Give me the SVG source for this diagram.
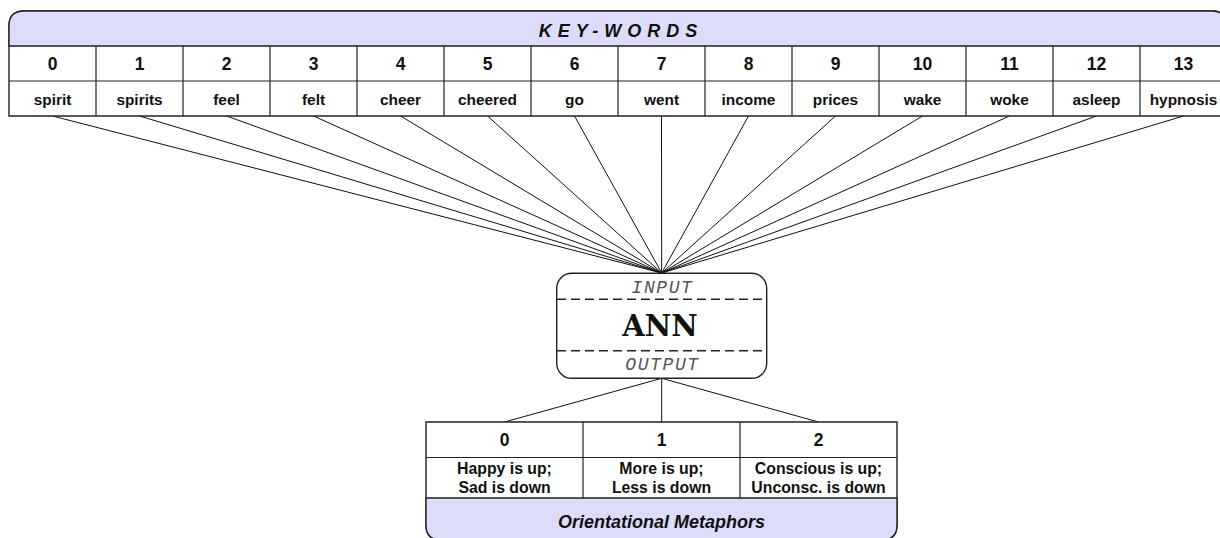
<svg xmlns="http://www.w3.org/2000/svg" width="1220" height="538" viewBox="0 0 1220 538">
<style>
.box{fill:#ffffff;stroke:#222222;stroke-width:1.4}
.hdr{fill:#dddcf9;stroke:#222222;stroke-width:1.4}
.cell{fill:none;stroke:#222222;stroke-width:1.2}
.num{font-family:"Liberation Sans",Arial,sans-serif;font-weight:bold;font-size:17.5px;text-anchor:middle;fill:#111}
.word{font-family:"Liberation Sans",Arial,sans-serif;font-weight:bold;font-size:15.4px;text-anchor:middle;fill:#111}
.desc{font-family:"Liberation Sans",Arial,sans-serif;font-weight:bold;font-size:15.8px;text-anchor:middle;fill:#111}
.title{font-family:"Liberation Sans",Arial,sans-serif;font-weight:bold;font-style:italic;font-size:18px;text-anchor:middle;fill:#111}
.io{font-family:"Liberation Mono","Courier New",monospace;font-style:italic;font-size:18px;text-anchor:middle;fill:#555;letter-spacing:1.6px}
.ann{font-family:"DejaVu Serif",serif;font-weight:bold;font-size:29px;text-anchor:middle;fill:#111}
.dash{stroke:#222;stroke-width:1.4;stroke-dasharray:9 5;fill:none}
.conn{stroke:#111;stroke-width:1;fill:none}
</style>

<g id="connectors">
<line class="conn" x1="52.5" y1="116" x2="661.7" y2="273"/>
<line class="conn" x1="139.5" y1="116" x2="661.7" y2="273"/>
<line class="conn" x1="226.5" y1="116" x2="661.7" y2="273"/>
<line class="conn" x1="313.5" y1="116" x2="661.7" y2="273"/>
<line class="conn" x1="400.5" y1="116" x2="661.7" y2="273"/>
<line class="conn" x1="487.5" y1="116" x2="661.7" y2="273"/>
<line class="conn" x1="574.5" y1="116" x2="661.7" y2="273"/>
<line class="conn" x1="661.5" y1="116" x2="661.7" y2="273"/>
<line class="conn" x1="748.5" y1="116" x2="661.7" y2="273"/>
<line class="conn" x1="835.5" y1="116" x2="661.7" y2="273"/>
<line class="conn" x1="922.5" y1="116" x2="661.7" y2="273"/>
<line class="conn" x1="1009.5" y1="116" x2="661.7" y2="273"/>
<line class="conn" x1="1096.5" y1="116" x2="661.7" y2="273"/>
<line class="conn" x1="1183.5" y1="116" x2="661.7" y2="273"/>
<line class="conn" x1="661.7" y1="378.3" x2="504.5" y2="422"/>
<line class="conn" x1="661.7" y1="378.3" x2="661.7" y2="422"/>
<line class="conn" x1="661.7" y1="378.3" x2="818.5" y2="422"/>
</g>

<g id="keywords">
<path class="box" d="M9,116 V26 Q9,11 24,11 H1212 Q1227,11 1227,26 V116 Z"/>
<path class="hdr" d="M9,46 V26 Q9,11 24,11 H1212 Q1227,11 1227,26 V46 Z"/>
<text class="title" x="621" y="36.5" letter-spacing="6">KEY-WORDS</text>
<line class="cell" x1="9" y1="81" x2="1227" y2="81"/>
<g class="cell">
<line x1="96" y1="46" x2="96" y2="116"/>
<line x1="183" y1="46" x2="183" y2="116"/>
<line x1="270" y1="46" x2="270" y2="116"/>
<line x1="357" y1="46" x2="357" y2="116"/>
<line x1="444" y1="46" x2="444" y2="116"/>
<line x1="531" y1="46" x2="531" y2="116"/>
<line x1="618" y1="46" x2="618" y2="116"/>
<line x1="705" y1="46" x2="705" y2="116"/>
<line x1="792" y1="46" x2="792" y2="116"/>
<line x1="879" y1="46" x2="879" y2="116"/>
<line x1="966" y1="46" x2="966" y2="116"/>
<line x1="1053" y1="46" x2="1053" y2="116"/>
<line x1="1140" y1="46" x2="1140" y2="116"/>
</g>
<text class="num" x="52.5" y="70">0</text>
<text class="num" x="139.5" y="70">1</text>
<text class="num" x="226.5" y="70">2</text>
<text class="num" x="313.5" y="70">3</text>
<text class="num" x="400.5" y="70">4</text>
<text class="num" x="487.5" y="70">5</text>
<text class="num" x="574.5" y="70">6</text>
<text class="num" x="661.5" y="70">7</text>
<text class="num" x="748.5" y="70">8</text>
<text class="num" x="835.5" y="70">9</text>
<text class="num" x="922.5" y="70">10</text>
<text class="num" x="1009.5" y="70">11</text>
<text class="num" x="1096.5" y="70">12</text>
<text class="num" x="1183.5" y="70">13</text>
<text class="word" x="52.5" y="104.5">spirit</text>
<text class="word" x="139.5" y="104.5">spirits</text>
<text class="word" x="226.5" y="104.5">feel</text>
<text class="word" x="313.5" y="104.5">felt</text>
<text class="word" x="400.5" y="104.5">cheer</text>
<text class="word" x="487.5" y="104.5">cheered</text>
<text class="word" x="574.5" y="104.5">go</text>
<text class="word" x="661.5" y="104.5">went</text>
<text class="word" x="748.5" y="104.5">income</text>
<text class="word" x="835.5" y="104.5">prices</text>
<text class="word" x="922.5" y="104.5">wake</text>
<text class="word" x="1009.5" y="104.5">woke</text>
<text class="word" x="1096.5" y="104.5">asleep</text>
<text class="word" x="1183.5" y="104.5">hypnosis</text>
</g>

<g id="ann">
<rect class="box" x="556.7" y="273.3" width="210" height="105" rx="15" ry="15"/>
<line class="dash" x1="557" y1="299.3" x2="766.5" y2="299.3"/>
<line class="dash" x1="557" y1="350.7" x2="766.5" y2="350.7"/>
<text class="io" x="662.5" y="292.5">INPUT</text>
<text class="ann" x="660" y="336">ANN</text>
<text class="io" x="662.5" y="370">OUTPUT</text>
</g>

<g id="metaphors">
<path class="box" d="M426,422 H897 V525 Q897,540 882,540 H441 Q426,540 426,525 Z"/>
<path class="hdr" d="M426,498 H897 V525 Q897,540 882,540 H441 Q426,540 426,525 Z"/>
<line class="cell" x1="426" y1="457.5" x2="897" y2="457.5"/>
<line class="cell" x1="583" y1="422" x2="583" y2="498"/>
<line class="cell" x1="740" y1="422" x2="740" y2="498"/>
<text class="num" x="504.5" y="445.5">0</text>
<text class="num" x="661.5" y="445.5">1</text>
<text class="num" x="818.5" y="445.5">2</text>
<text class="desc" x="504.5" y="474">Happy is up;</text>
<text class="desc" x="504.5" y="492.5">Sad is down</text>
<text class="desc" x="661.5" y="474">More is up;</text>
<text class="desc" x="661.5" y="492.5">Less is down</text>
<text class="desc" x="818.5" y="474">Conscious is up;</text>
<text class="desc" x="818.5" y="492.5">Unconsc. is down</text>
<text class="title" x="661.5" y="528">Orientational Metaphors</text>
</g>
</svg>
